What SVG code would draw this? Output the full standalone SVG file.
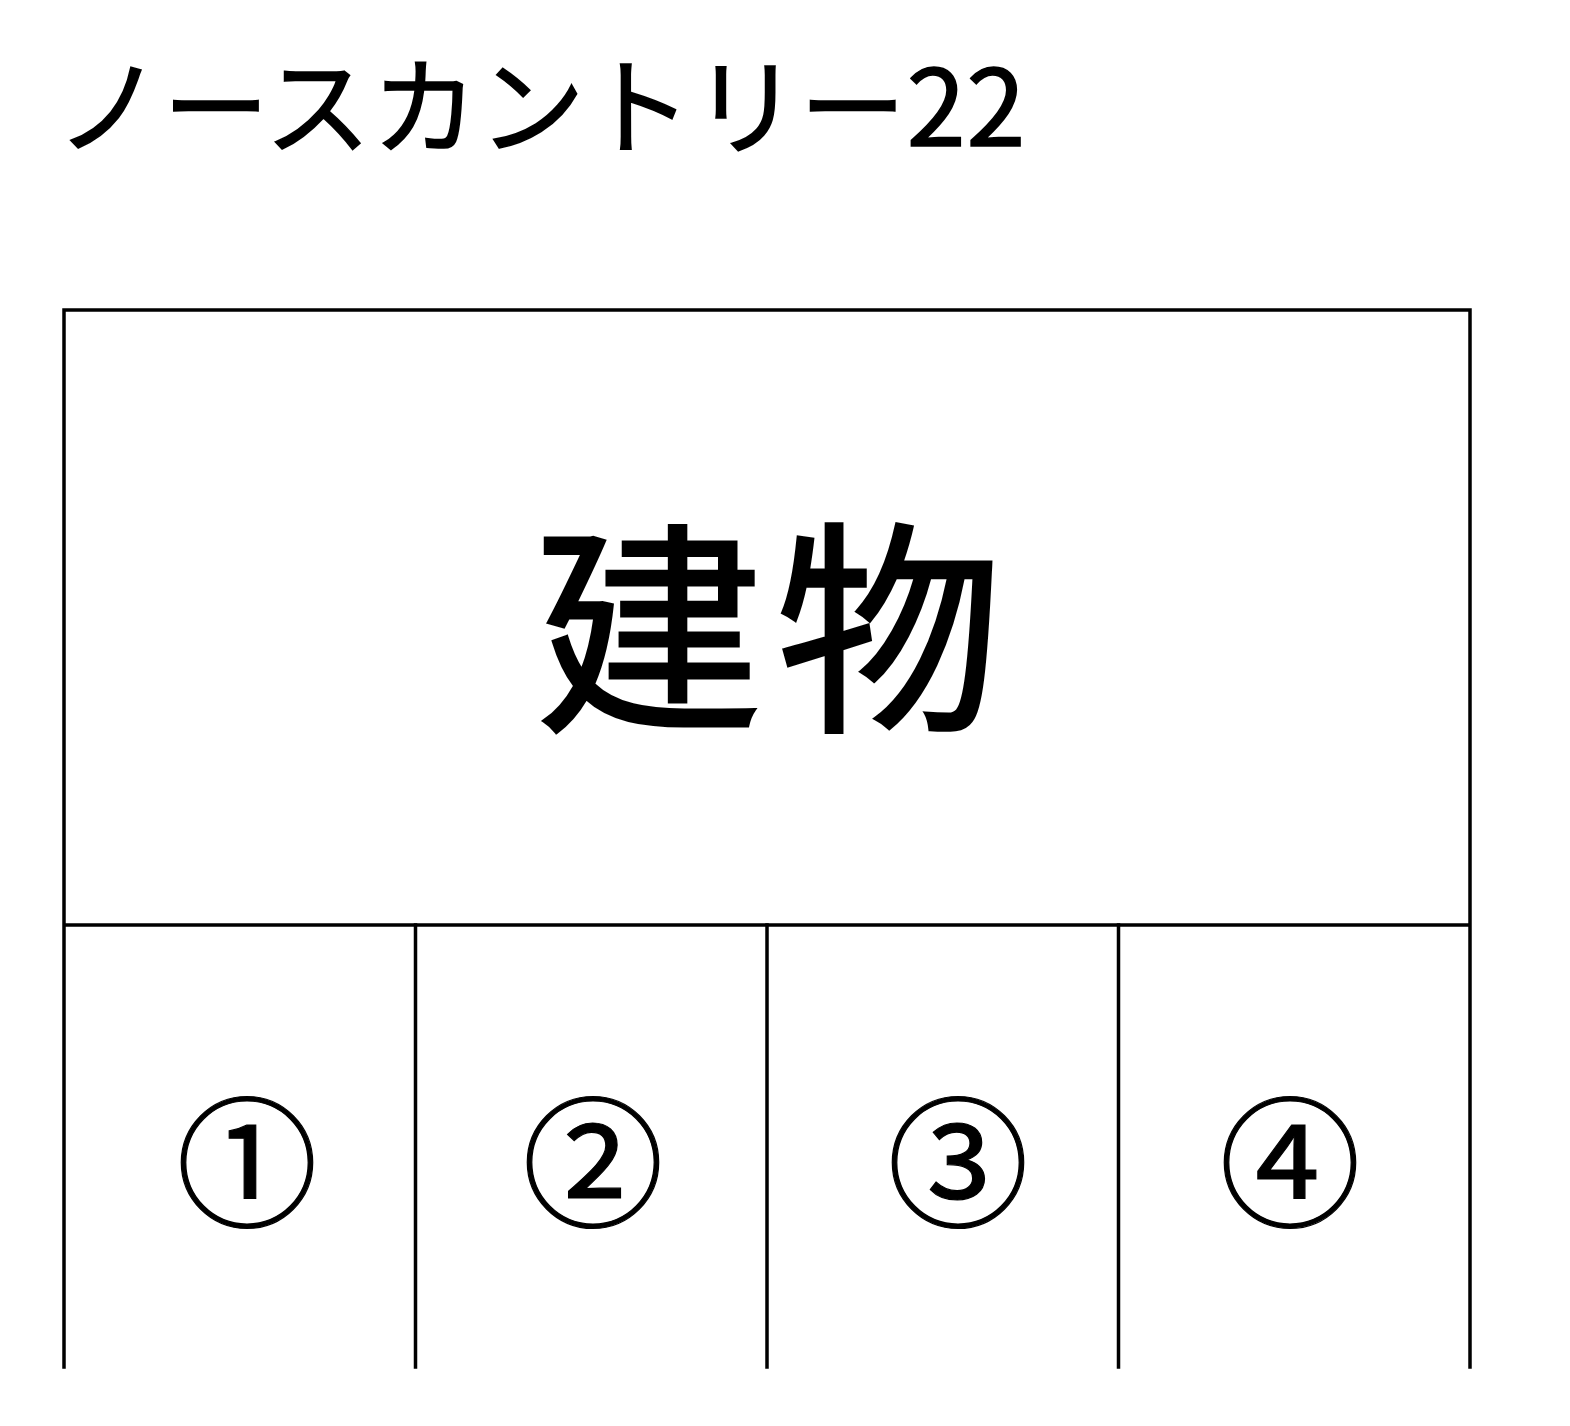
<svg xmlns="http://www.w3.org/2000/svg" width="1570" height="1426" viewBox="0 0 1570 1426">
<style>
.ln{stroke:#000;stroke-width:3.5;fill:none;stroke-linecap:square}
.t{font-family:"Noto Sans CJK JP","Noto Sans",sans-serif;fill:#000;stroke:#000}
.num{font-size:141px;text-anchor:middle;stroke-width:1.2}
</style>
<rect x="0" y="0" width="1570" height="1426" fill="#fff"/>
<g id="title"><text class="t" x="56" y="146" font-size="106" letter-spacing="1" stroke-width="1.6">ノースカントリー22</text></g>
<g id="building">
<path class="ln" d="M64,1367 V310 H1470 V1367 M64,925 H1470"/>
<text class="t" x="776" y="714" font-size="226" text-anchor="middle" letter-spacing="14" stroke-width="3">建物</text>
</g>
<g id="connectors">
<path class="ln" d="M415.5,925 V1367 M767,925 V1367 M1118.5,925 V1367"/>
</g>
<g id="space1"><text class="t num" x="247" y="1216">①</text></g>
<g id="space2"><text class="t num" x="593" y="1216">②</text></g>
<g id="space3"><text class="t num" x="958" y="1216">③</text></g>
<g id="space4"><text class="t num" x="1290" y="1216">④</text></g>
</svg>
